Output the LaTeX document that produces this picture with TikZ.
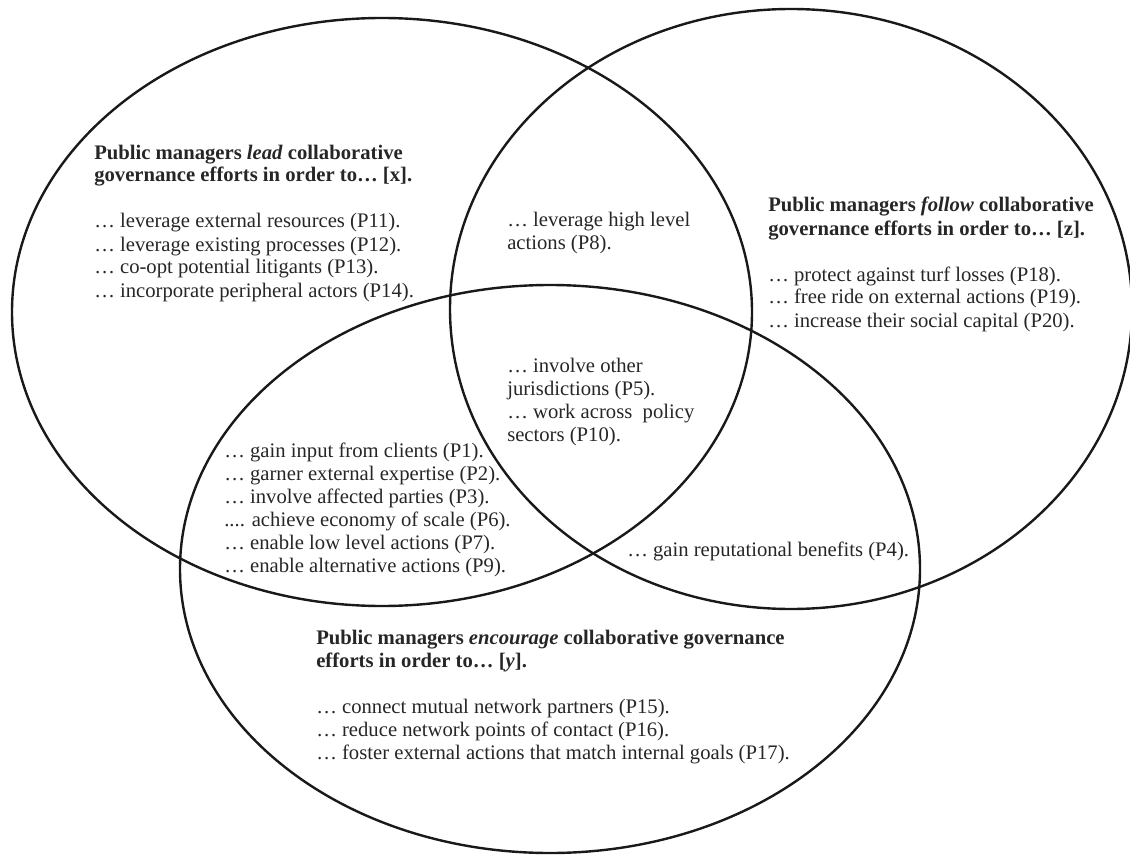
\documentclass[tikz,border=0pt]{standalone}
\usepackage{fontspec}
\setmainfont{Liberation Serif}
\usetikzlibrary{shapes.geometric}

\begin{document}
\begin{tikzpicture}[x=0.75pt, y=-0.75pt,
    venn/.style={draw=black!90, ellipse, line width=1.8pt, inner sep=0pt},
    txt/.style={anchor=base west, align=left, inner sep=0pt, text=black!85, font=\fontsize{15.5}{17.25}\selectfont}]
    \useasboundingbox (0,0) rectangle (1130,855);
    % the three sets
    \node[venn, minimum width=555pt, minimum height=441pt] (lead) at (382,312) {};
    \node[venn, minimum width=511.5pt, minimum height=450pt] (follow) at (791,309) {};
    \node[venn, minimum width=555pt, minimum height=426pt] (encourage) at (550,569) {};

    % texts (placed by the baseline of their last line)
    \node[txt] (leadtxt) at (94,297) {\textbf{Public managers \textit{lead} collaborative}\\
        \textbf{governance efforts in order to… [x].}\\[17.25pt]
        … leverage external resources (P11).\\
        … leverage existing processes (P12).\\
        … co-opt potential litigants (P13).\\
        … incorporate peripheral actors (P14).};
    \node[txt] (followtxt) at (768,327) {\textbf{Public managers \textit{follow} collaborative}\\
        \textbf{governance efforts in order to… [z].}\\[17.25pt]
        … protect against turf losses (P18).\\
        … free ride on external actions (P19).\\
        … increase their social capital (P20).};
    \node[txt] (encouragetxt) at (316,759) {\textbf{Public managers \textit{encourage} collaborative governance}\\
        \textbf{efforts in order to… [\textit{y}].}\\[17.25pt]
        … connect mutual network partners (P15).\\
        … reduce network points of contact (P16).\\
        … foster external actions that match internal goals (P17).};
    \node[txt] (leadfollow) at (507,250) {… leverage high level\\ actions (P8).};
    \node[txt] (all) at (507,441) {… involve other\\ jurisdictions (P5).\\ … work across~ policy\\ sectors (P10).};
    \node[txt] (leadencourage) at (224,572) {… gain input from clients (P1).\\
        … garner external expertise (P2).\\
        … involve affected parties (P3).\\
        .... achieve economy of scale (P6).\\
        … enable low level actions (P7).\\
        … enable alternative actions (P9).};
    \node[txt] (followencourage) at (627,556) {… gain reputational benefits (P4).};
\end{tikzpicture}
\end{document}
